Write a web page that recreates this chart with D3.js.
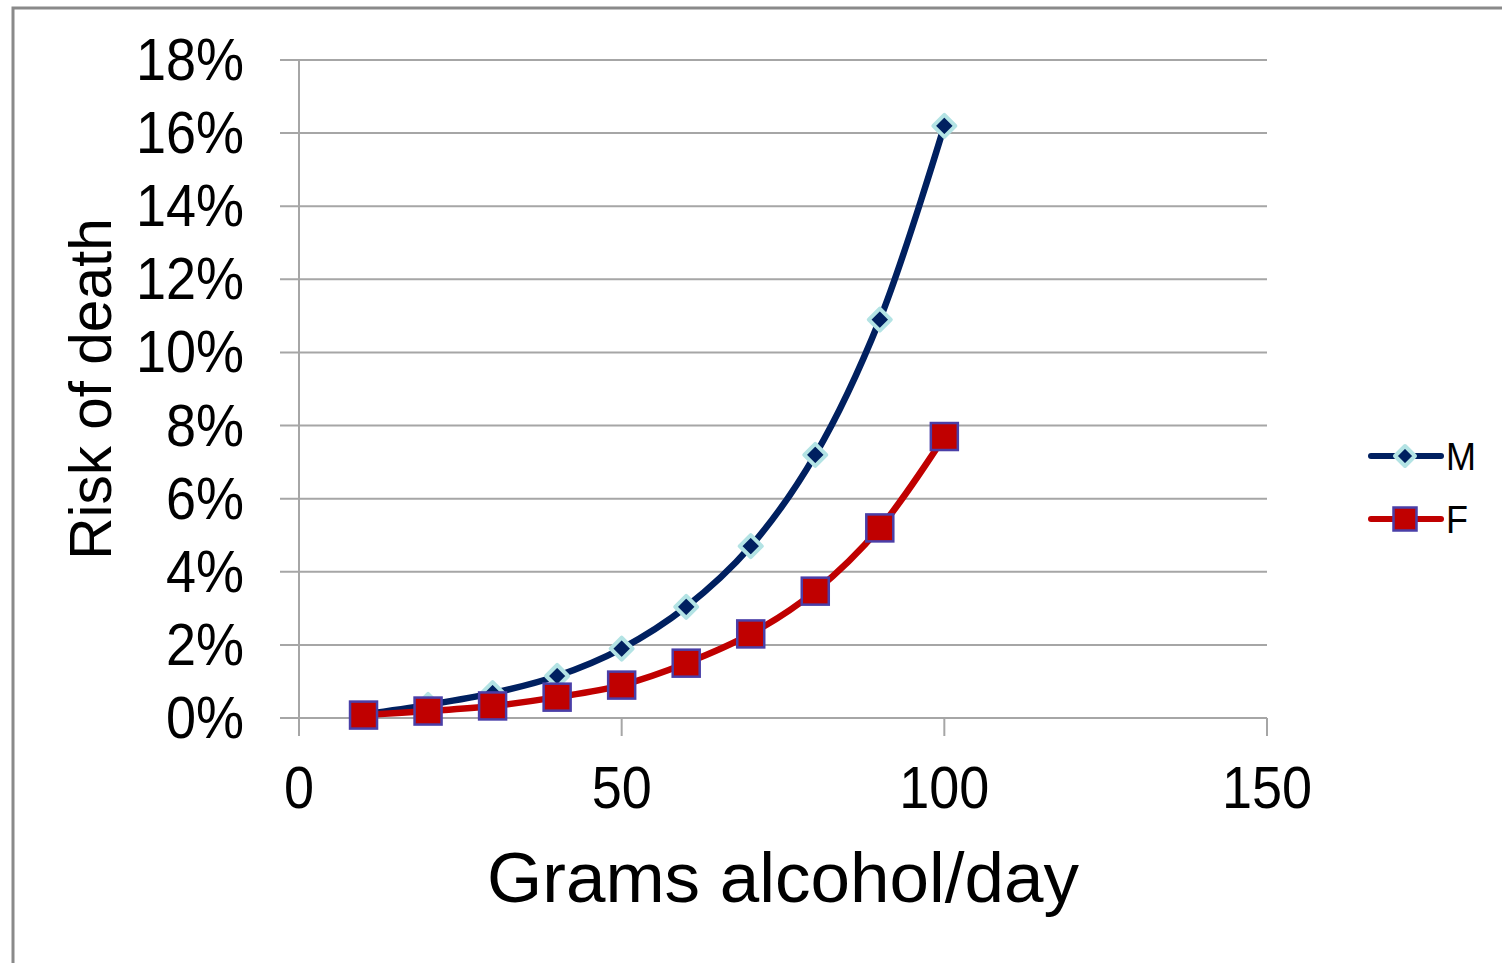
<!DOCTYPE html>
<html>
<head>
<meta charset="utf-8">
<script src="https://cdn.jsdelivr.net/npm/d3@7"></script>
<style>
  html, body { margin: 0; padding: 0; background: #fff; }
  svg { display: block; }
  text { font-family: "Liberation Sans", Arial, sans-serif; fill: #000; }
</style>
</head>
<body>
<svg id="chart" width="1502" height="963"></svg>
<script>
// Grams of alcohol per day
const grams = [10, 20, 30, 40, 50, 60, 70, 80, 90, 100];
// Risk of death (%), men and women
const riskM = [0.10, 0.36, 0.68, 1.15, 1.90, 3.04, 4.70, 7.20, 10.9, 16.2];
const riskF = [0.08, 0.19, 0.33, 0.57, 0.90, 1.50, 2.30, 3.47, 5.20, 7.70];
const xTicks = [0, 50, 100, 150];
const yTicks = [0, 2, 4, 6, 8, 10, 12, 14, 16, 18];
const seriesNames = ["M", "F"];

const svg = d3.select("#chart");

// outer frame
svg.append("rect")
  .attr("x", 13).attr("y", 8)
  .attr("width", 1600).attr("height", 1000)
  .attr("fill", "none").attr("stroke", "#8a8a8a").attr("stroke-width", 3);

const plot = { left: 299, right: 1267, top: 60, bottom: 718 };

const x = d3.scaleLinear().domain([0, 150]).range([plot.left, plot.right]);
const y = d3.scaleLinear().domain([0, 18]).range([plot.bottom, plot.top]);

// horizontal gridlines with tick stubs to the left
svg.append("g")
  .selectAll("line")
  .data(yTicks)
  .join("line")
  .attr("x1", plot.left - 19).attr("x2", plot.right)
  .attr("y1", d => y(d)).attr("y2", d => y(d))
  .attr("stroke", "#a6a6a6").attr("stroke-width", 2);

// vertical axis line
svg.append("line")
  .attr("x1", plot.left).attr("x2", plot.left)
  .attr("y1", plot.top).attr("y2", plot.bottom + 18)
  .attr("stroke", "#a6a6a6").attr("stroke-width", 2);

// x tick marks
svg.append("g")
  .selectAll("line")
  .data(xTicks)
  .join("line")
  .attr("x1", d => x(d)).attr("x2", d => x(d))
  .attr("y1", plot.bottom).attr("y2", plot.bottom + 18)
  .attr("stroke", "#a6a6a6").attr("stroke-width", 2);

// y tick labels (slightly tall glyphs)
svg.append("g")
  .selectAll("text")
  .data(yTicks)
  .join("text")
  .attr("transform", d => `translate(244,${y(d) + 20}) scale(1,1.1)`)
  .attr("text-anchor", "end")
  .attr("font-size", 54)
  .text(d => d + "%");

// x tick labels
svg.append("g")
  .selectAll("text")
  .data(xTicks)
  .join("text")
  .attr("transform", d => `translate(${x(d)},808) scale(1,1.1)`)
  .attr("text-anchor", "middle")
  .attr("font-size", 54)
  .text(d => d);

// axis titles
svg.append("text")
  .attr("x", 783).attr("y", 902)
  .attr("text-anchor", "middle")
  .attr("font-size", 71)
  .text("Grams alcohol/day");

svg.append("text")
  .attr("transform", "translate(111,389) rotate(-90)")
  .attr("text-anchor", "middle")
  .attr("font-size", 58.5)
  .text("Risk of death");

// series
const line = d3.line()
  .x(d => x(d[0]))
  .y(d => y(d[1]))
  .curve(d3.curveCatmullRom.alpha(0.5));

const dataM = grams.map((g, i) => [g, riskM[i]]);
const dataF = grams.map((g, i) => [g, riskF[i]]);

const colM = "#002060", colF = "#c00000";

function diamond(g, cx, cy, s) {
  g.append("path")
    .attr("d", `M${cx},${cy - s}L${cx + s},${cy}L${cx},${cy + s}L${cx - s},${cy}Z`)
    .attr("fill", colM).attr("stroke", "#b3e3e4").attr("stroke-width", 4)
    .attr("stroke-linejoin", "round");
}
function square(g, cx, cy, s) {
  g.append("rect")
    .attr("x", cx - s).attr("y", cy - s)
    .attr("width", 2 * s).attr("height", 2 * s)
    .attr("fill", colF).attr("stroke", "#4a3fa8").attr("stroke-width", 2.5);
}

svg.append("path").datum(dataM)
  .attr("d", line).attr("fill", "none")
  .attr("stroke", colM).attr("stroke-width", 6.5);

const gM = svg.append("g");
dataM.forEach(d => diamond(gM, x(d[0]), y(d[1]), 11));

svg.append("path").datum(dataF)
  .attr("d", line).attr("fill", "none")
  .attr("stroke", colF).attr("stroke-width", 6.5);

const gF = svg.append("g");
dataF.forEach(d => square(gF, x(d[0]), y(d[1]), 13.5));

// legend
const legend = svg.append("g");
const legY = [456, 519];
seriesNames.forEach((name, i) => {
  const ly = legY[i];
  legend.append("line")
    .attr("x1", 1371).attr("x2", 1441)
    .attr("y1", ly).attr("y2", ly)
    .attr("stroke", i === 0 ? colM : colF).attr("stroke-width", 6)
    .attr("stroke-linecap", "round");
  if (i === 0) diamond(legend, 1405, ly, 10);
  else square(legend, 1405, ly, 11.5);
  legend.append("text")
    .attr("transform", `translate(1446,${ly + 14}) scale(1,1.1)`)
    .attr("font-size", 36)
    .text(name);
});
</script>
</body>
</html>
